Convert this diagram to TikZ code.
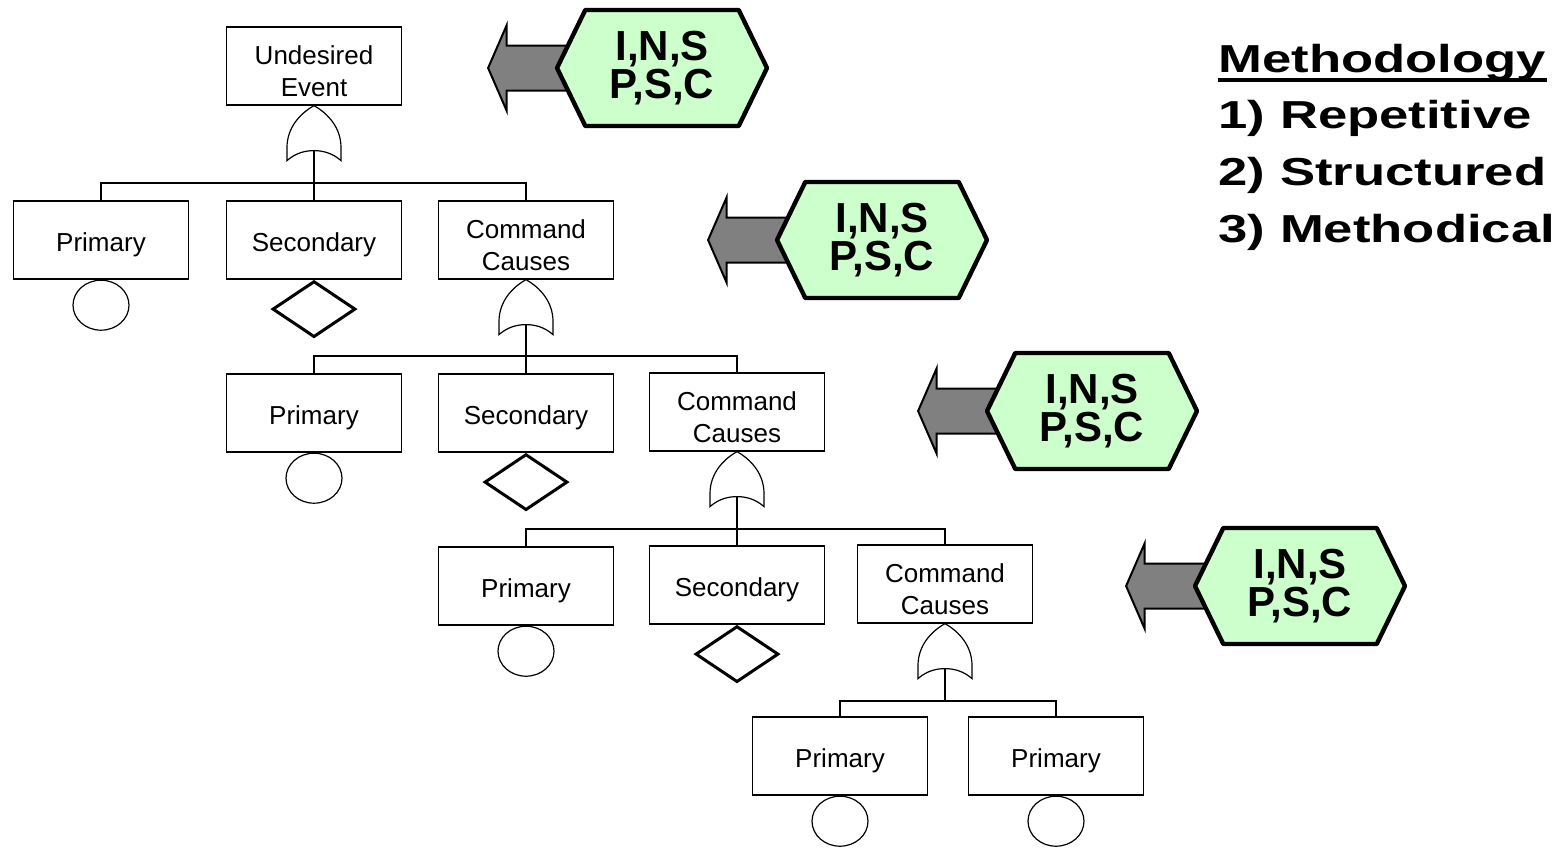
\documentclass[tikz,border=0pt]{standalone}
\usepackage{fontspec}
\setmainfont{Liberation Sans}
\usetikzlibrary{shapes.geometric,shapes.symbols,shapes.arrows}

\definecolor{hexgreen}{HTML}{CCFFCC}
\definecolor{arrowgray}{HTML}{808080}

\tikzset{
  event/.style={draw, line width=0.6pt, minimum width=87.5pt, minimum height=39pt,
    align=center, inner sep=0pt, text height=14.3pt, font=\fontsize{13}{16}\selectfont},
  event2/.style={event, text height=30.3pt},
  basic/.style={draw, ellipse, line width=0.6pt, minimum width=28pt, minimum height=25pt, inner sep=0pt, anchor=north},
  undev/.style={draw, diamond, line width=1.5pt, minimum width=41.5pt, minimum height=28pt, inner sep=0pt, anchor=north},
  hexbox/.style={signal, signal to=west and east, signal pointer angle=128, draw,
    line width=2.2pt, line join=round, fill=hexgreen, minimum width=105pt, minimum height=58pt,
    align=center, inner sep=0pt, font=\bfseries\fontsize{21}{19}\selectfont},
  blockarrow/.style={single arrow, shape border rotate=180, draw, line width=1pt, fill=arrowgray,
    inner xsep=0pt, inner ysep=10.75pt, minimum height=45pt, single arrow head extend=10pt,
    single arrow tip angle=133, anchor=tip},
  methline/.style={anchor=base west, inner sep=0pt, font=\bfseries\fontsize{19.5}{24}\selectfont},
  orgate/.pic={
    \draw[line width=0.6pt] (0,0) .. controls (-14,8) and (-27,22) .. (-27,42) -- (-27,55)
      .. controls (-18,47) and (-8,45) .. (0,45) .. controls (8,45) and (18,47) .. (27,55)
      -- (27,42) .. controls (27,22) and (14,8) .. (0,0);
    \coordinate (-out) at (0,45);
  }
}

\begin{document}
\begin{tikzpicture}[x=0.5pt, y=-0.5pt, line width=0.6pt]
        \useasboundingbox (0,0) rectangle (1564,851);

        % top event
        \node[event2] at (314,66) (event) {Undesired\\Event};
        \pic (gate1) at (event.south) {orgate};

        % level 1
        \node[event] at (101,240) (primary1) {Primary};
        \node[event] at (314,240) (secondary1) {Secondary};
        \node[event2] at (526,240) (command1) {Command\\Causes};
        \node[basic] at (primary1.south) (circle1) {};
        \node[undev] at (secondary1.south) (diamond1) {};
        \pic (gate2) at (command1.south) {orgate};
        \coordinate (bar1) at (314,183);

        % level 2
        \node[event] at (314,413) (primary2) {Primary};
        \node[event] at (526,413) (secondary2) {Secondary};
        \node[event2] at (737,412) (command2) {Command\\Causes};
        \node[basic] at (primary2.south) (circle2) {};
        \node[undev] at (secondary2.south) (diamond2) {};
        \pic (gate3) at (command2.south) {orgate};
        \coordinate (bar2) at (526,356);

        % level 3
        \node[event] at (526,586) (primary3) {Primary};
        \node[event] at (737,585) (secondary3) {Secondary};
        \node[event2] at (945,584) (command3) {Command\\Causes};
        \node[basic] at (primary3.south) (circle3) {};
        \node[undev] at (secondary3.south) (diamond3) {};
        \pic (gate4) at (command3.south) {orgate};
        \coordinate (bar3) at (737,529);

        % level 4
        \node[event] at (840,756) (primary4) {Primary};
        \node[event] at (1056,756) (primary5) {Primary};
        \node[basic] at (primary4.south) (circle4) {};
        \node[basic] at (primary5.south) (circle5) {};
        \coordinate (bar4) at (945,701);

        % links
        \draw (gate1-out) -- (secondary1.north);
        \draw (primary1.north) |- (bar1) -| (command1.north);
        \draw (gate2-out) -- (secondary2.north);
        \draw (primary2.north) |- (bar2) -| (command2.north);
        \draw (gate3-out) -- (secondary3.north);
        \draw (primary3.north) |- (bar3) -| (command3.north);
        \draw (gate4-out) -- (bar4);
        \draw (primary4.north) |- (bar4) -| (primary5.north);

        % hazard tags
        \foreach \i/\x/\y in {1/662/68, 2/882/240, 3/1092/411, 4/1300/586} {
          \node[blockarrow] at (\x-175,\y) (arrow\i) {};
          \node[hexbox] at (\x,\y) (tag\i) {I,N,S\\P,S,C};
        }

        % methodology
        \node[methline] at (1218,72) (meth0) {\scalebox{1.35}[1]{Methodology}};
        \node[methline] at (1218,128) (meth1) {\scalebox{1.35}[1]{1) Repetitive}};
        \node[methline] at (1218,185) (meth2) {\scalebox{1.35}[1]{2) Structured}};
        \node[methline] at (1218,242) (meth3) {\scalebox{1.35}[1]{3) Methodical}};
        \draw[line width=2pt] ([yshift=-4pt]meth0.base west) -- ([yshift=-4pt]meth0.base east);
\end{tikzpicture}
\end{document}
